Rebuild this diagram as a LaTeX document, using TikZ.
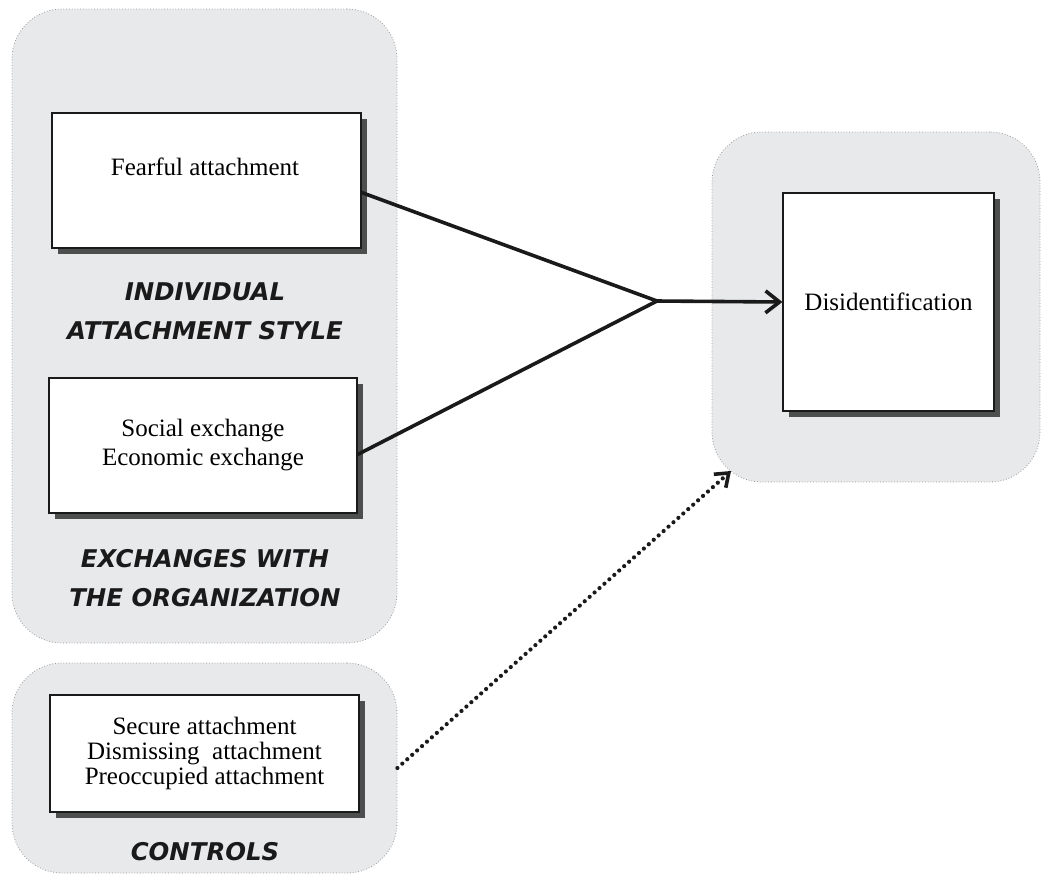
\documentclass[tikz,border=0pt]{standalone}
\usepackage{fontspec}
\setmainfont{Liberation Serif}
\newfontfamily\headfont{DejaVu Sans}
\usetikzlibrary{arrows.meta,shadows}
\definecolor{panelgray}{HTML}{E8E9EB}
\definecolor{inkgray}{HTML}{1A1A1A}
\tikzset{
  panel/.style={draw=gray!80, densely dotted, line width=0.4pt, fill=panelgray,
    rounded corners=25pt, minimum width=#1},
  varbox/.style={draw=inkgray, fill=white, line width=0.6pt, align=center,
    font=\fontsize{12.5}{14.5}\selectfont,
    drop shadow={shadow xshift=3pt, shadow yshift=-3pt, fill=black!80, opacity=0.85}},
  heading/.style={align=center, text=inkgray,
    font=\headfont\bfseries\itshape\fontsize{12.2}{19.5}\selectfont},
  link/.style={line width=1.8pt, draw=inkgray},
}
\begin{document}
\begin{tikzpicture}[x=0.5pt, y=-0.5pt]
\useasboundingbox (0,0) rectangle (1045,880);
% grey panels
\node[panel=192.5pt, minimum height=317pt] (predpanel) at (204.5,326) {};
\node[panel=192.5pt, minimum height=105pt] (ctrlpanel) at (204.5,768) {};
\node[panel=164pt, minimum height=175pt] (outpanel) at (876,307) {};
% boxes
\node[varbox, minimum width=154.5pt, minimum height=67.5pt] (fear) at (206.5,180.5) {};
\node[inner sep=0pt, font=\fontsize{12.5}{14.5}\selectfont] (feartext) at (205,167) {Fearful attachment};
\node[varbox, minimum width=154pt, minimum height=67.5pt] (exch) at (203,445.5)
  {Social exchange\\Economic exchange};
\node[varbox, minimum width=154.5pt, minimum height=58.5pt,
  font=\fontsize{12.5}{12.4}\selectfont] (ctrl) at (204.5,753.5)
  {Secure attachment\\Dismissing~ attachment\\Preoccupied attachment};
\node[varbox, minimum width=105.5pt, minimum height=109pt] (disid) at (888.5,302) {Disidentification};
% headings
\node[heading] (indiv) at (205,311) {INDIVIDUAL\\ATTACHMENT STYLE};
\node[heading] (orghead) at (205,578) {EXCHANGES WITH\\THE ORGANIZATION};
\node[heading] (ctrlhead) at (205,852) {CONTROLS};
% connectors
\coordinate (join) at (657,301);
\coordinate (dotend) at (731,471);
\draw[link] ([yshift=-6pt]fear.east) -- (join);
\draw[link] ([yshift=-4.5pt]exch.east) -- (join);
\draw[link, -{Straight Barb[length=7pt, width=11pt, line width=1.8pt]}] (join) -- (disid.west);
\draw[link, line width=2.1pt, line cap=round, dash pattern=on 0pt off 3.3pt,
  -{Straight Barb[length=6pt, width=9pt, line width=1.8pt, line cap=butt]}]
  (ctrlpanel.east) -- (dotend);
\end{tikzpicture}
\end{document}
